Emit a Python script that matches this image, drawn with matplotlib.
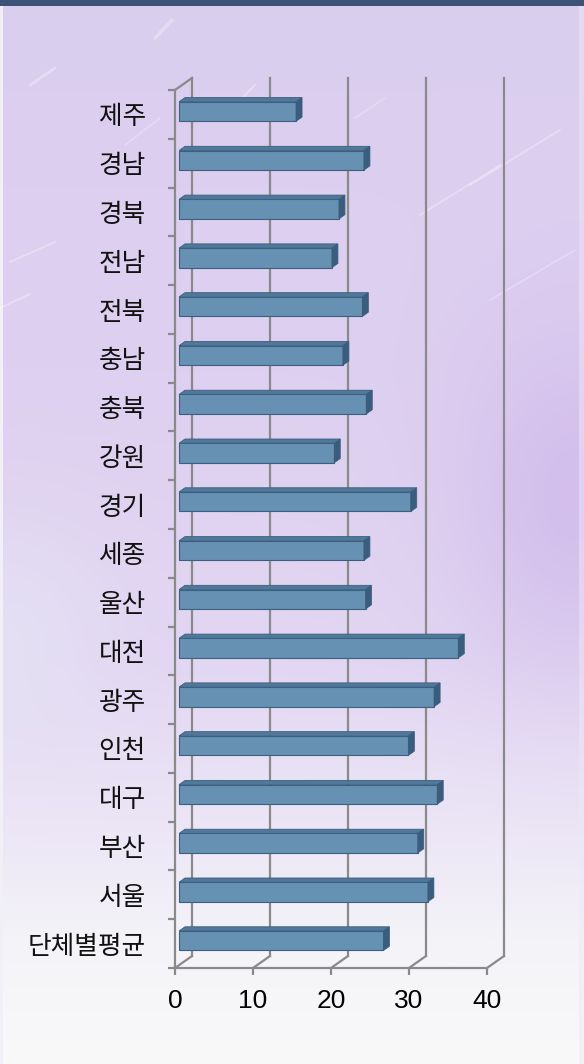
import numpy as np
import matplotlib
matplotlib.use("Agg")
import matplotlib.pyplot as plt
from matplotlib.patches import Polygon

# Regions, listed top to bottom
categories = ["제주", "경남", "경북", "전남", "전북", "충남", "충북", "강원", "경기",
              "세종", "울산", "대전", "광주", "인천", "대구", "부산", "서울", "단체별평균"]
values = [15.0, 23.7, 20.5, 19.6, 23.5, 21.0, 24.0, 19.9, 29.7,
          23.7, 23.9, 35.8, 32.7, 29.4, 33.1, 30.6, 31.9, 26.2]
x_ticks = [0, 10, 20, 30, 40]

W, H = 584, 1064
fig = plt.figure(figsize=(W / 100, H / 100), dpi=100)

# ---- background: lavender gradient fading to white, with soft light streaks
yy, xx = np.mgrid[0:H, 0:W].astype(float)
yf = yy / H
stops = [0.0, 0.35, 0.62, 0.78, 0.88, 1.0]
cols = np.array([[218, 206, 239], [222, 208, 240], [226, 214, 242],
                 [236, 230, 246], [244, 243, 248], [249, 249, 250]], float)
img = np.zeros((H, W, 3))
for c in range(3):
    img[..., c] = np.interp(yf, stops, cols[:, c])
blob = np.exp(-(((xx - 575) / 120) ** 2 + ((yy - 500) / 170) ** 2))
img = img * (1 - 0.7 * blob[..., None]) + np.array([206, 182, 234]) * 0.7 * blob[..., None]
blob2 = np.exp(-(((xx - 0) / 110) ** 2 + ((yy - 640) / 120) ** 2))
img = img * (1 - 0.6 * blob2[..., None]) + np.array([230, 230, 245]) * 0.6 * blob2[..., None]
img[:6, :] = [60, 82, 119]
img[6:, :3] = [240, 240, 246]
img[6:, W - 5:] = img[6:, W - 5:] * 0.5 + 0.5 * np.array([236, 232, 246])

bg = fig.add_axes([0, 0, 1, 1])
bg.imshow(img.astype(np.uint8), extent=(0, W, H, 0), aspect="auto", interpolation="bilinear")
streaks = [((30, 85), (55, 68), 2.0), ((155, 38), (172, 20), 2.5), ((235, 105), (255, 85), 1.5),
           ((10, 262), (55, 242), 1.5), ((420, 215), (500, 165), 1.2), ((470, 185), (560, 130), 1.5),
           ((305, 265), (335, 245), 1.2), ((0, 308), (30, 294), 1.5), ((125, 145), (160, 118), 1.0),
           ((355, 118), (385, 98), 1.0), ((490, 300), (575, 250), 1.0)]
for (x0, y0), (x1, y1), lw in streaks:
    bg.plot([x0, x1], [y0, y1], color="white", lw=lw, alpha=0.3, solid_capstyle="round")
bg.set_xlim(0, W)
bg.set_ylim(H, 0)
bg.axis("off")

# ---- chart axes (front plane of the 3-D box)
left_px, right_px, top_px, bot_px = 175, 487, 90, 968
ax = fig.add_axes([left_px / W, (H - bot_px) / H, (right_px - left_px) / W, (bot_px - top_px) / H])
ax.patch.set_alpha(0)
n = len(categories)
ax.set_xlim(0, 40)
ax.set_ylim(0, n)

grid_c = "#8a8a8a"
DX = 17 / ((right_px - left_px) / 40)      # depth offset in x units
DY = 12 / ((bot_px - top_px) / n)          # depth offset in y units

# back wall gridlines, floor diagonals and wall edge
for v in x_ticks:
    ax.plot([v + DX, v + DX], [DY, n + DY], color=grid_c, lw=1.6, clip_on=False, zorder=1)
    ax.plot([v, v + DX], [0, DY], color=grid_c, lw=1.6, clip_on=False, zorder=1)
ax.plot([0, DX], [n, n + DY], color=grid_c, lw=1.6, clip_on=False, zorder=1)

# bars
pos = np.arange(n)[::-1] + 0.5
h = 0.4
d0, d1 = 0.24, 0.59
face_c, top_c, side_c, edge_c = "#6791b2", "#4f789a", "#3a5c7d", "#3d5f7f"
ax.barh(pos + d0 * DY, values, left=d0 * DX, height=h, color=face_c,
        edgecolor=edge_c, linewidth=0.8, zorder=3)
for y, v in zip(pos, values):
    yb0, yt0 = y - h / 2 + d0 * DY, y + h / 2 + d0 * DY
    yb1, yt1 = y - h / 2 + d1 * DY, y + h / 2 + d1 * DY
    xs0, xs1 = d0 * DX, d1 * DX
    ax.add_patch(Polygon([(xs0, yt0), (v + xs0, yt0), (v + xs1, yt1), (xs1, yt1)],
                         closed=True, facecolor=top_c, edgecolor=edge_c, lw=0.6, zorder=3))
    ax.add_patch(Polygon([(v + xs0, yb0), (v + xs0, yt0), (v + xs1, yt1), (v + xs1, yb1)],
                         closed=True, facecolor=side_c, edgecolor=edge_c, lw=0.6, zorder=3))

# front axes
for s in ("top", "right"):
    ax.spines[s].set_visible(False)
for s in ("left", "bottom"):
    ax.spines[s].set_color(grid_c)
    ax.spines[s].set_linewidth(1.6)

ax.set_xticks(x_ticks)
ax.set_xticklabels([str(t) for t in x_ticks], fontsize=19, family=["Liberation Sans", "DejaVu Sans"])
ax.tick_params(axis="x", length=5, width=1.6, color=grid_c, pad=10, labelcolor="black")

ax.set_yticks(np.arange(n + 1))
ax.set_yticklabels([])
ax.set_yticks(pos, minor=True)
ax.set_yticklabels(categories, minor=True, fontsize=18.5,
                   family=["Noto Sans CJK KR", "DejaVu Sans"])
ax.tick_params(axis="y", which="major", length=5, width=1.6, color=grid_c)
ax.tick_params(axis="y", which="minor", length=0, pad=21, labelcolor="#111111")

fig.savefig("out.png", dpi=100)
